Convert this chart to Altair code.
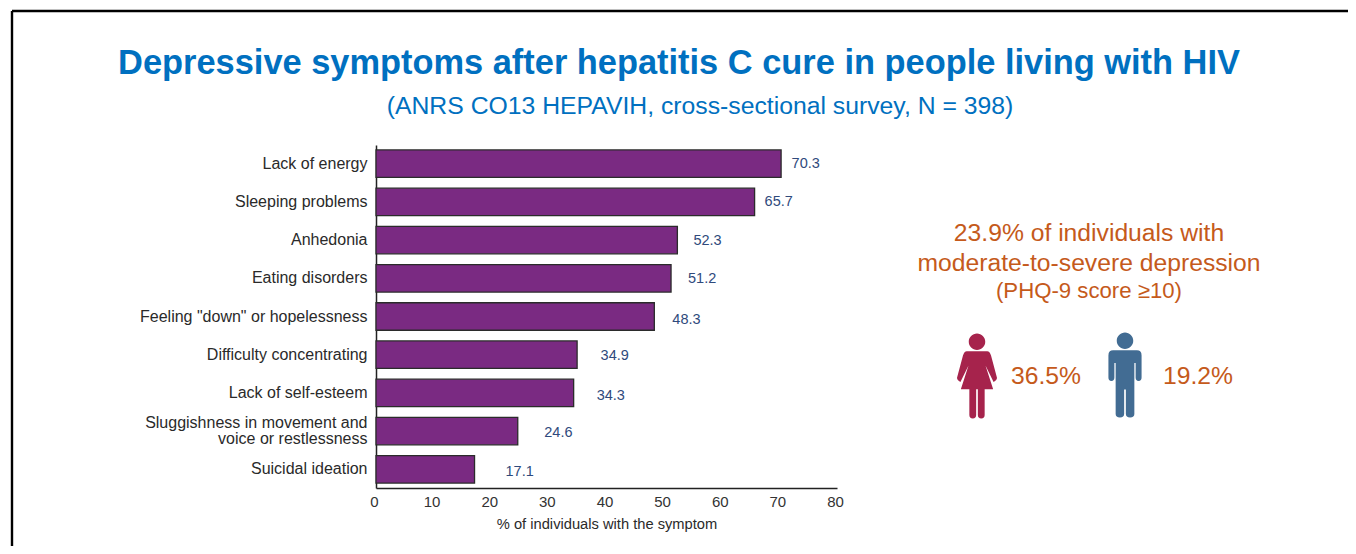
import altair as alt
import pandas as pd

symptoms = ["Lack of energy", "Sleeping problems", "Anhedonia", "Eating disorders",
            "Feeling \"down\" or hopelessness", "Difficulty concentrating", "Lack of self-esteem",
            "Sluggishness in movement and|voice or restlessness", "Suicidal ideation"]
values = [70.3, 65.7, 52.3, 51.2, 48.3, 34.9, 34.3, 24.6, 17.1]
label_gap_px = [10.5, 10, 16, 17, 18, 23.5, 23, 26.5, 31]
label_drop_px = [0.5, 0.5, 1, 1, 3.5, 1.5, 3, 2, 2.5]
FONT = "Liberation Sans"
HALF_BAND = 13.75

df = pd.DataFrame({"symptom": symptoms, "value": values, "gap": label_gap_px, "drop": label_drop_px})
df["label"] = df["value"].map(lambda v: f"{v:.1f}")
df["label_x"] = df["value"] + df["gap"] / 5.76
df["drop_px"] = df["drop"] + HALF_BAND

x_scale = alt.Scale(domain=[0, 80], nice=False)
y_scale = alt.Scale(domain=symptoms, paddingInner=0.28, paddingOuter=0.13)

OX, OY = 368, 137   # plot origin inside the chart


def text(s, px, py, size, color, weight="normal", align="center"):
    return alt.Chart(pd.DataFrame({"t": [s]})).mark_text(
        font=FONT, fontSize=size, color=color, fontWeight=weight, align=align, baseline="alphabetic"
    ).encode(text="t:N", x=alt.value(px - 8 - OX), y=alt.value(py - 8 - OY))


bars = alt.Chart(df).mark_bar(color="#7A2A82", stroke="#2B2B2B", strokeWidth=1.3).encode(
    x=alt.X("value:Q", scale=x_scale, axis=alt.Axis(
        title="% of individuals with the symptom", titleFont=FONT, titleFontSize=14.7,
        titleFontWeight="normal", titleColor="#2A2A2A", titlePadding=7,
        labelFont=FONT, labelFontSize=15, labelColor="#333333", labelOffset=-2,
        values=[0, 10, 20, 30, 40, 50, 60, 70, 80], tickSize=0, labelPadding=6, grid=False,
        domainColor="#222222", domainWidth=1.5, labelFlush=False)),
    y=alt.Y("symptom:N", sort=symptoms, scale=y_scale, axis=alt.Axis(
        title=None, labelFont=FONT, labelFontSize=16, labelColor="#2A2A2A", tickSize=0, labelPadding=9,
        domainColor="#222222", domainWidth=1.5, labelLimit=300, labelLineHeight=16,
        labelOffset={"condition": {"test": "indexof(datum.label, '|') >= 0", "value": -8}, "value": 0},
        labelExpr="split(datum.label, '|')")),
)
labels = alt.Chart(df).mark_text(font=FONT, fontSize=14.5, color="#2F4A7C", align="left", baseline="middle").encode(
    x=alt.X("label_x:Q", scale=x_scale),
    y=alt.Y("symptom:N", sort=symptoms, scale=y_scale),
    yOffset=alt.YOffset("drop_px:Q", scale=None), text="label:N")

W_PATH = ("M-0.0 -0.5A0.097 0.097 0 1 1 -0.0 -0.306A0.097 0.097 0 1 1 -0.0 -0.5Z"
          "M-0.12 -0.29L0.12 -0.29Q0.15 -0.29 0.165 -0.24L0.235 0.02Q0.235 0.05 0.195 0.07L0.10 -0.125"
          "L0.19 0.155L0.09 0.155L0.09 0.46Q0.09 0.5 0.05 0.5Q0.01 0.5 0.01 0.46L0.01 0.155L-0.01 0.155"
          "L-0.01 0.46Q-0.01 0.5 -0.05 0.5Q-0.09 0.5 -0.09 0.46L-0.09 0.155L-0.19 0.155L-0.10 -0.125"
          "L-0.195 0.07Q-0.235 0.05 -0.235 0.02L-0.165 -0.24Q-0.15 -0.29 -0.12 -0.29Z")
M_PATH = ("M0 -0.5A0.097 0.097 0 1 1 0 -0.306A0.097 0.097 0 1 1 0 -0.5Z"
          "M-0.14 -0.29L0.14 -0.29Q0.195 -0.29 0.195 -0.23L0.195 0.03Q0.195 0.07 0.16 0.07"
          "Q0.125 0.07 0.125 0.03L0.125 -0.14L0.11 -0.14L0.11 0.46Q0.11 0.5 0.06 0.5Q0.01 0.5 0.01 0.46"
          "L0.01 0.17L-0.01 0.17L-0.01 0.46Q-0.01 0.5 -0.06 0.5Q-0.11 0.5 -0.11 0.46L-0.11 -0.14L-0.125 -0.14"
          "L-0.125 0.03Q-0.125 0.07 -0.16 0.07Q-0.195 0.07 -0.195 0.03L-0.195 -0.23Q-0.195 -0.29 -0.14 -0.29Z")


def icon(path, px, py, color):
    return alt.Chart(pd.DataFrame({"a": [0]})).mark_point(
        shape=path, filled=True, fill=color, opacity=1, strokeWidth=0, size=4 * 85 * 85
    ).encode(x=alt.value(px - 8 - OX), y=alt.value(py - 8 - OY))


def rule(x1, y1, x2, y2):
    return alt.Chart(pd.DataFrame({"a": [0]})).mark_rule(color="#000000", strokeWidth=2.4).encode(
        x=alt.value(x1 - 8 - OX), x2=alt.value(x2 - 8 - OX), y=alt.value(y1 - 8 - OY), y2=alt.value(y2 - 8 - OY))


BLUE = "#0070C0"
ORANGE = "#C55A1B"
chart = alt.layer(
    rule(12, 11, 1356, 11), rule(12, 11, 12, 554),
    bars, labels,
    text("Depressive symptoms after hepatitis C cure in people living with HIV", 679, 74, 34.4, BLUE, "bold"),
    text("(ANRS CO13 HEPAVIH, cross-sectional survey, N = 398)", 700, 114, 24.75, BLUE),
    text("23.9% of individuals with", 1089, 241, 24.7, ORANGE),
    text("moderate-to-severe depression", 1089, 271, 24.7, ORANGE),
    text("(PHQ-9 score \u226510)", 1089, 298, 22.2, ORANGE),
    text("36.5%", 1046, 384, 24.7, ORANGE),
    text("19.2%", 1198, 384, 24.7, ORANGE),
    icon(W_PATH, 977, 376, "#A6234C"),
    icon(M_PATH, 1125, 375, "#426C93"),
).properties(
    width=461, height=343, autosize=alt.AutoSizeParams(type="none"),
    padding={"left": OX, "top": OY, "right": 1340 - OX - 461, "bottom": 538 - OY - 343},
    background="#FFFFFF",
).configure_view(stroke=None)

chart.save("out.html", embed_options={"renderer": "svg", "actions": False})
